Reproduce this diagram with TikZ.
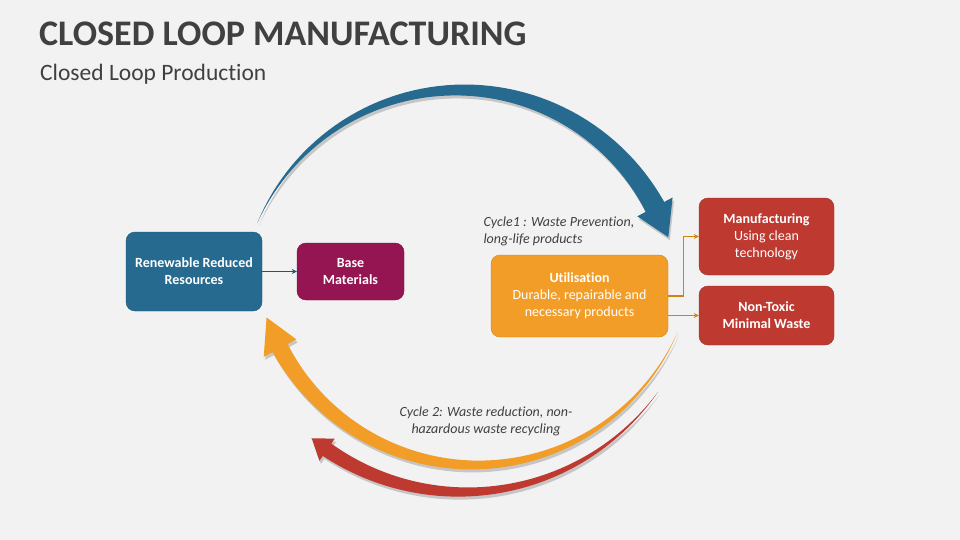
\documentclass[tikz,border=0pt]{standalone}
\usepackage{fontspec}
\setmainfont{Carlito}[Ligatures=NoCommon]
\usetikzlibrary{arrows.meta}

\definecolor{bgC}{HTML}{F2F2F2}
\definecolor{titleC}{HTML}{404040}
\definecolor{blueC}{HTML}{276A8F}
\definecolor{plumC}{HTML}{951452}
\definecolor{orangeC}{HTML}{F29D28}
\definecolor{redC}{HTML}{BE3A31}
\definecolor{lineblueC}{HTML}{1F5377}
\definecolor{lineorC}{HTML}{D4820F}

% tapered curved arrow: colour, cx, cy, radius, start, end, width, head width, head angle
\newcommand{\taperarc}[9]{%
  \fill[#1, preaction={fill=black, opacity=0.18, transform canvas={shift={(1.5pt,-3pt)}}}]
    plot[domain=#5:#6, samples=60]
      ({#2+(#4+#7*(\x-(#5))/((#6)-(#5))/2)*cos(\x)},{#3+(#4+#7*(\x-(#5))/((#6)-(#5))/2)*sin(\x)})
    -- ({#2+(#4+#8/2)*cos(#6)},{#3+(#4+#8/2)*sin(#6)})
    -- ({#2+#4*cos(#6+#9)},{#3+#4*sin(#6+#9)})
    -- ({#2+(#4-#8/2)*cos(#6)},{#3+(#4-#8/2)*sin(#6)})
    -- plot[domain=#6:#5, samples=60]
      ({#2+(#4-#7*(\x-(#5))/((#6)-(#5))/2)*cos(\x)},{#3+(#4-#7*(\x-(#5))/((#6)-(#5))/2)*sin(\x)})
    -- cycle;}

\tikzset{
  box/.style={rounded corners=9pt, text=white, align=center,
    font=\fontsize{14}{17}\selectfont, inner sep=2pt},
  note/.style={text=titleC, font=\itshape\fontsize{14}{17}\selectfont}
}

\begin{document}
\begin{tikzpicture}
    [x=1pt, y=-1pt]
    \fill[bgC] (0,0) rectangle (960,540);
    \useasboundingbox (0,0) rectangle (960,540);

    \node[anchor=base west, text=titleC, inner sep=0pt,
      font=\bfseries\fontsize{36}{42}\selectfont] (title) at (39,46) {CLOSED LOOP MANUFACTURING};
    \node[anchor=base west, text=titleC, inner sep=0pt,
      font=\fontsize{23.5}{28}\selectfont] (sub) at (40,81) {Closed Loop Production};

    % cycle arrows
    \taperarc{blueC}{460}{311}{221}{-156.6}{-28.1}{21}{40}{8.6}
    \taperarc{orangeC}{475}{244}{221}{23.4}{151.9}{17}{37}{8.7}
    \taperarc{redC}{463}{252}{240}{35.7}{124.5}{15}{27}{4.6}

    \node[box, fill=blueC, draw=blueC!80!black, minimum width=136pt, minimum height=79pt]
      (res) at (194,271.5) {\bfseries Renewable Reduced\\\bfseries Resources};
    \node[box, fill=plumC, draw=plumC!80!black, minimum width=107pt, minimum height=57pt]
      (base) at (350.5,271.5) {\bfseries Base\\\bfseries Materials};
    \node[box, fill=orangeC, draw=lineorC, minimum width=177pt, minimum height=82pt]
      (util) at (579.5,296) {\bfseries Utilisation\\Durable, repairable and\\necessary products};
    \node[box, fill=redC, draw=redC!80!black, minimum width=135pt, minimum height=77pt]
      (manu) at (766.5,236.5) {\bfseries Manufacturing\\Using clean\\technology};
    \node[box, fill=redC, draw=redC!80!black, minimum width=135pt, minimum height=59pt]
      (nontox) at (766.5,315.5) {\bfseries Non-Toxic\\\bfseries Minimal Waste};

    \draw[lineblueC, line width=1.3pt, -{Stealth[length=5pt,width=5pt]}] (res) -- (base);
    \draw[lineorC, line width=1.3pt, -{Stealth[length=5pt,width=5pt]}]
      (util.east) -- ++(15,0) |- (manu.west);
    \draw[lineorC, line width=1.3pt, -{Stealth[length=5pt,width=5pt]}]
      (util.east |- nontox.west) -- (nontox.west);

    \node[note, anchor=west, align=left] (c1) at (480,231) {Cycle1 : Waste Prevention,\\long-life products};
    \node[note, align=center] (c2) at (486,421) {Cycle 2: Waste reduction, non-\\hazardous waste recycling};
  \end{tikzpicture}
\end{document}
